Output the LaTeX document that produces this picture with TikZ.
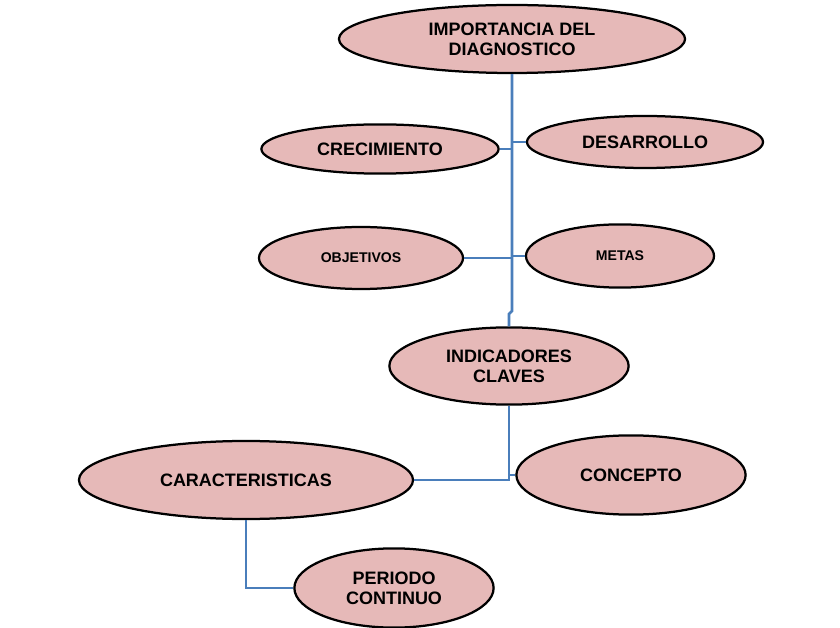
\documentclass[tikz,border=0pt]{standalone}
\usepackage{fontspec}
\setmainfont{Liberation Sans}
\usepackage{xcolor}
\definecolor{dgpink}{RGB}{230,185,184}
\definecolor{dgblue}{RGB}{74,126,187}
\usepackage{tikz}
\usetikzlibrary{shapes.geometric, calc}

\begin{document}
\begin{tikzpicture}[x=0.025cm, y=-0.025cm,
    bubble/.style={ellipse, draw=black, line width=1.6pt, fill=dgpink,
                   inner sep=0pt, align=center,
                   font=\bfseries\fontsize{12.8}{14.2}\selectfont},
    smallbubble/.style={bubble, font=\bfseries\fontsize{10}{12}\selectfont},
    link/.style={draw=dgblue, line width=1.8pt}]
  \fill[white] (0,0) rectangle (840,628);
  \useasboundingbox (0,0) rectangle (840,628);

  % Top -- main topic
  \node[bubble, minimum width=8.65cm, minimum height=1.7cm] (imp) at (512,39)
       {IMPORTANCIA DEL\\DIAGNOSTICO};

  % First pair
  \node[bubble, minimum width=5.93cm, minimum height=1.23cm] (crec) at (380,149)
       {CRECIMIENTO};
  \node[bubble, minimum width=5.9cm, minimum height=1.3cm] (desa) at (645,142)
       {DESARROLLO};

  % Second pair
  \node[smallbubble, minimum width=5.1cm, minimum height=1.55cm] (obj) at (361,258)
       {OBJETIVOS};
  \node[smallbubble, minimum width=4.7cm, minimum height=1.58cm] (metas) at (620,256)
       {METAS};

  % Middle
  \node[bubble, minimum width=5.98cm, minimum height=1.93cm] (ind) at (509,366)
       {INDICADORES\\CLAVES};

  % Lower part
  \node[bubble, minimum width=5.73cm, minimum height=1.98cm] (conc) at (631,475)
       {CONCEPTO};
  \node[bubble, minimum width=8.35cm, minimum height=1.95cm] (car) at (246,480)
       {CARACTERISTICAS};
  \node[bubble, minimum width=4.98cm, minimum height=1.98cm] (per) at (394,588)
       {PERIODO\\CONTINUO};

  % Junctions of the trunk
  \coordinate (jogA) at (512,311);
  \coordinate (jogB) at (509,314);
  \coordinate (jogC) at (509,480);

  % Trunk
  \draw[link] (imp.south) -- (jogA) -- (jogB) -- (ind.north);

  % Branches off the trunk
  \draw[link] (crec.east) -- (crec.east -| jogA);
  \draw[link] (desa.west) -- (desa.west -| jogA);
  \draw[link] (obj.east) -- (obj.east -| jogA);
  \draw[link] (metas.west) -- (metas.west -| jogA);

  % Lower branches
  \draw[link] (ind.south) -- (jogC) -- (car.east);
  \draw[link] (conc.west) -- (conc.west -| jogC);
  \draw[link] (car.south) |- (per.west);
\end{tikzpicture}
\end{document}
